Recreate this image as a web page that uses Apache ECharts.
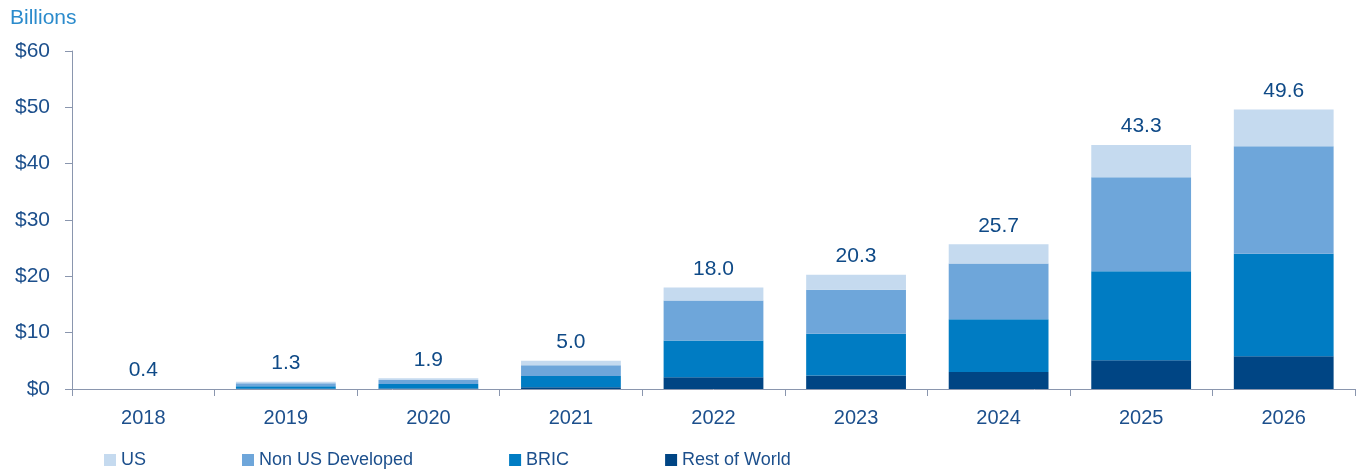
<!DOCTYPE html>
<html>
<head>
<meta charset="utf-8">
<script src="https://cdn.jsdelivr.net/npm/echarts@6/dist/echarts.min.js"></script>
<style>
  html, body { margin: 0; padding: 0; background: #fff; }
  #chart { width: 1362px; height: 476px; }
</style>
</head>
<body>
<div id="chart"></div>
<script>
  // values, billions of dollars
  var years = ['2018', '2019', '2020', '2021', '2022', '2023', '2024', '2025', '2026'];
  var restOfWorld = [0, 0.05, 0.1, 0.3, 2.1, 2.4, 3.0, 5.1, 5.8];
  var bric = [0, 0.45, 0.8, 2.0, 6.5, 7.4, 9.4, 15.8, 18.2];
  var nonUsDeveloped = [0, 0.5, 0.7, 1.9, 7.1, 7.8, 9.9, 16.7, 19.1];
  var us = [0, 0.3, 0.3, 0.8, 2.3, 2.7, 3.4, 5.7, 6.5];
  var totals = ['0.4', '1.3', '1.9', '5.0', '18.0', '20.3', '25.7', '43.3', '49.6'];

  var font = 'Liberation Sans';
  var textBlue = '#1c4f8c';
  var axisGrey = '#8a96ae';

  var chart = echarts.init(document.getElementById('chart'));

  function seg(name, data, color) {
    return {
      name: name,
      type: 'bar',
      stack: 'total',
      barCategoryGap: '30%',
      data: data,
      itemStyle: { color: color },
      emphasis: { disabled: true }
    };
  }

  var usSeries = seg('US', us, '#c5daef');
  usSeries.label = {
    show: true,
    position: 'top',
    distance: 8,
    fontFamily: font,
    fontSize: 21,
    color: '#0f4a87',
    formatter: function (p) { return totals[p.dataIndex]; }
  };

  chart.setOption({
    animation: false,
    textStyle: { fontFamily: font },
    title: {
      text: 'Billions',
      left: 5,
      top: 3,
      textStyle: { fontFamily: font, fontSize: 21, fontWeight: 'normal', color: '#2b8bcc' }
    },
    legend: {
      data: ['US', 'Non US Developed', 'BRIC', 'Rest of World'],
      left: 99,
      top: 446,
      itemWidth: 12,
      itemHeight: 12,
      itemGap: 96,
      icon: 'rect',
      textStyle: { fontFamily: font, fontSize: 18, color: textBlue }
    },
    grid: { left: 72, right: 7, top: 51, bottom: 87 },
    xAxis: {
      type: 'category',
      data: years,
      axisLine: { lineStyle: { color: axisGrey, width: 1 } },
      axisTick: { show: true, length: 7, lineStyle: { color: axisGrey } },
      axisLabel: { margin: 19, fontFamily: font, fontSize: 20, color: textBlue }
    },
    yAxis: {
      type: 'value',
      min: 0,
      max: 60,
      interval: 10,
      splitLine: { show: false },
      axisLine: { show: true, lineStyle: { color: axisGrey, width: 1 } },
      axisTick: { show: true, length: 7, lineStyle: { color: axisGrey } },
      axisLabel: {
        margin: 22,
        fontFamily: font,
        fontSize: 21,
        color: textBlue,
        formatter: function (v) { return '$' + v; }
      }
    },
    series: [
      seg('Rest of World', restOfWorld, '#004584'),
      seg('BRIC', bric, '#007cc3'),
      seg('Non US Developed', nonUsDeveloped, '#6ea6da'),
      usSeries
    ]
  });
</script>
</body>
</html>
